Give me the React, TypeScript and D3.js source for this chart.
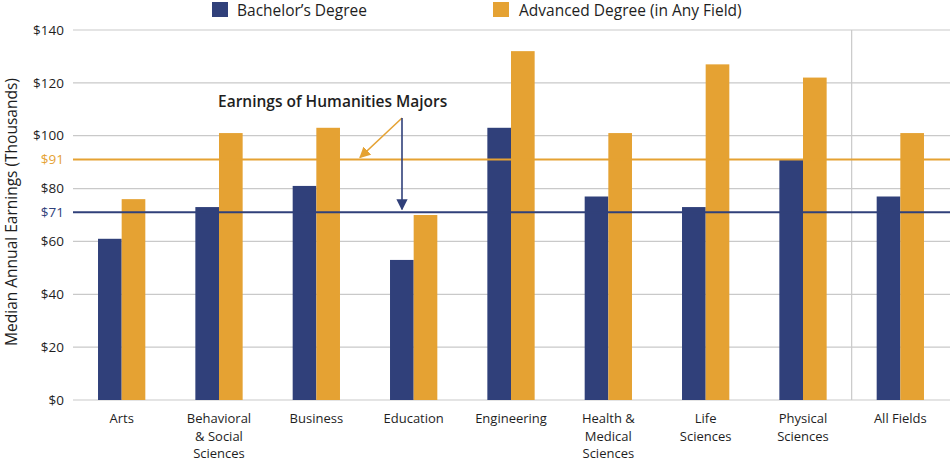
import React from 'react';
import * as d3 from 'd3';

const categories = [
  ['Arts'],
  ['Behavioral', '& Social', 'Sciences'],
  ['Business'],
  ['Education'],
  ['Engineering'],
  ['Health &', 'Medical', 'Sciences'],
  ['Life', 'Sciences'],
  ['Physical', 'Sciences'],
  ['All Fields'],
];
const bachelor = [61, 73, 81, 53, 103, 77, 73, 91, 77];
const advanced = [76, 101, 103, 70, 132, 101, 127, 122, 101];
const yTicks = [0, 20, 40, 60, 80, 100, 120, 140];
const humanitiesBachelor = 71;
const humanitiesAdvanced = 91;
const seriesNames = ['Bachelor\u2019s Degree', 'Advanced Degree (in Any Field)'];

const W = 950;
const H = 463;
const NAVY = '#30407a';
const GOLD = '#e5a233';
const GRID = '#c9c9c9';
const TEXT = '#1e1e1e';
const FONT = '"Open Sans", sans-serif';

const App: React.FC = () => {
  const keys = categories.map((c) => c.join(' '));
  const x = d3.scaleBand<string>().domain(keys).range([73, 949]).paddingInner(0.514).paddingOuter(0.257);
  const sub = d3.scaleBand<number>().domain([0, 1]).range([0, x.bandwidth()]);
  const y = d3.scaleLinear().domain([0, 140]).range([400, 30]);

  const sepX = (x(keys[7])! + x(keys[8])! + x.bandwidth()) / 2;
  const arrowX = 402;
  const arrowY = 118;

  return (
    <svg width={W} height={H} style={{ position: 'absolute', left: 0, top: 0 }} fontFamily={FONT}>
      <defs>
        <marker id="ah-blue" viewBox="0 0 10 10" refX="9" refY="5" markerWidth="7" markerHeight="7" orient="auto">
          <path d="M0,0 L10,5 L0,10 Z" fill={NAVY} />
        </marker>
        <marker id="ah-gold" viewBox="0 0 10 10" refX="9" refY="5" markerWidth="7" markerHeight="7" orient="auto">
          <path d="M0,0 L10,5 L0,10 Z" fill={GOLD} />
        </marker>
      </defs>

      {/* legend */}
      <rect x={212} y={2} width={16} height={15} fill={NAVY} />
      <text x={237} y={16} fontSize={15.5} fontWeight={500} fill={TEXT}>{seriesNames[0]}</text>
      <rect x={493} y={2} width={16} height={15} fill={GOLD} />
      <text x={519} y={16} fontSize={15.5} fontWeight={500} fill={TEXT}>{seriesNames[1]}</text>

      {/* grid */}
      {yTicks.map((t) => (
        <g key={t}>
          <line x1={73} x2={950} y1={y(t)} y2={y(t)} stroke={GRID} strokeWidth={1.2} />
          <text x={64} y={y(t)} dy="0.35em" textAnchor="end" fontSize={13.5} fill={TEXT}>${t}</text>
        </g>
      ))}
      <line x1={sepX} x2={sepX} y1={y(140)} y2={y(0)} stroke={GRID} strokeWidth={1.2} />

      {/* bars */}
      {keys.map((k, i) => (
        <g key={k} transform={`translate(${x(k)},0)`}>
          <rect x={sub(0)} y={y(bachelor[i])} width={sub.bandwidth()} height={y(0) - y(bachelor[i])} fill={NAVY} />
          <rect x={sub(1)} y={y(advanced[i])} width={sub.bandwidth()} height={y(0) - y(advanced[i])} fill={GOLD} />
        </g>
      ))}

      {/* humanities reference lines */}
      <line x1={73} x2={950} y1={y(humanitiesAdvanced)} y2={y(humanitiesAdvanced)} stroke={GOLD} strokeWidth={2} />
      <line x1={73} x2={950} y1={y(humanitiesBachelor)} y2={y(humanitiesBachelor)} stroke={NAVY} strokeWidth={2} />
      <text x={64} y={y(humanitiesAdvanced)} dy="0.35em" textAnchor="end" fontSize={13.5} fill={GOLD}>${humanitiesAdvanced}</text>
      <text x={64} y={y(humanitiesBachelor)} dy="0.35em" textAnchor="end" fontSize={13.5} fill={NAVY}>${humanitiesBachelor}</text>

      {/* annotation */}
      <text x={218} y={107} fontSize={15.5} fontWeight={600} fill={TEXT}>Earnings of Humanities Majors</text>
      <line x1={arrowX} y1={arrowY} x2={360} y2={y(humanitiesAdvanced) - 2} stroke={GOLD} strokeWidth={1.6} markerEnd="url(#ah-gold)" />
      <line x1={arrowX} y1={arrowY} x2={arrowX} y2={y(humanitiesBachelor) - 3} stroke={NAVY} strokeWidth={1.6} markerEnd="url(#ah-blue)" />

      {/* x labels */}
      {categories.map((lines, i) => (
        <text key={keys[i]} x={x(keys[i])! + x.bandwidth() / 2} y={423} textAnchor="middle" fontSize={13} fill={TEXT}>
          {lines.map((l, j) => (
            <tspan key={j} x={x(keys[i])! + x.bandwidth() / 2} dy={j === 0 ? 0 : 17.5}>{l}</tspan>
          ))}
        </text>
      ))}

      {/* y title */}
      <text transform="translate(17,212) rotate(-90)" textAnchor="middle" fontSize={15.5} fontWeight={500} fill={TEXT}>
        Median Annual Earnings (Thousands)
      </text>
    </svg>
  );
};

export default App;
